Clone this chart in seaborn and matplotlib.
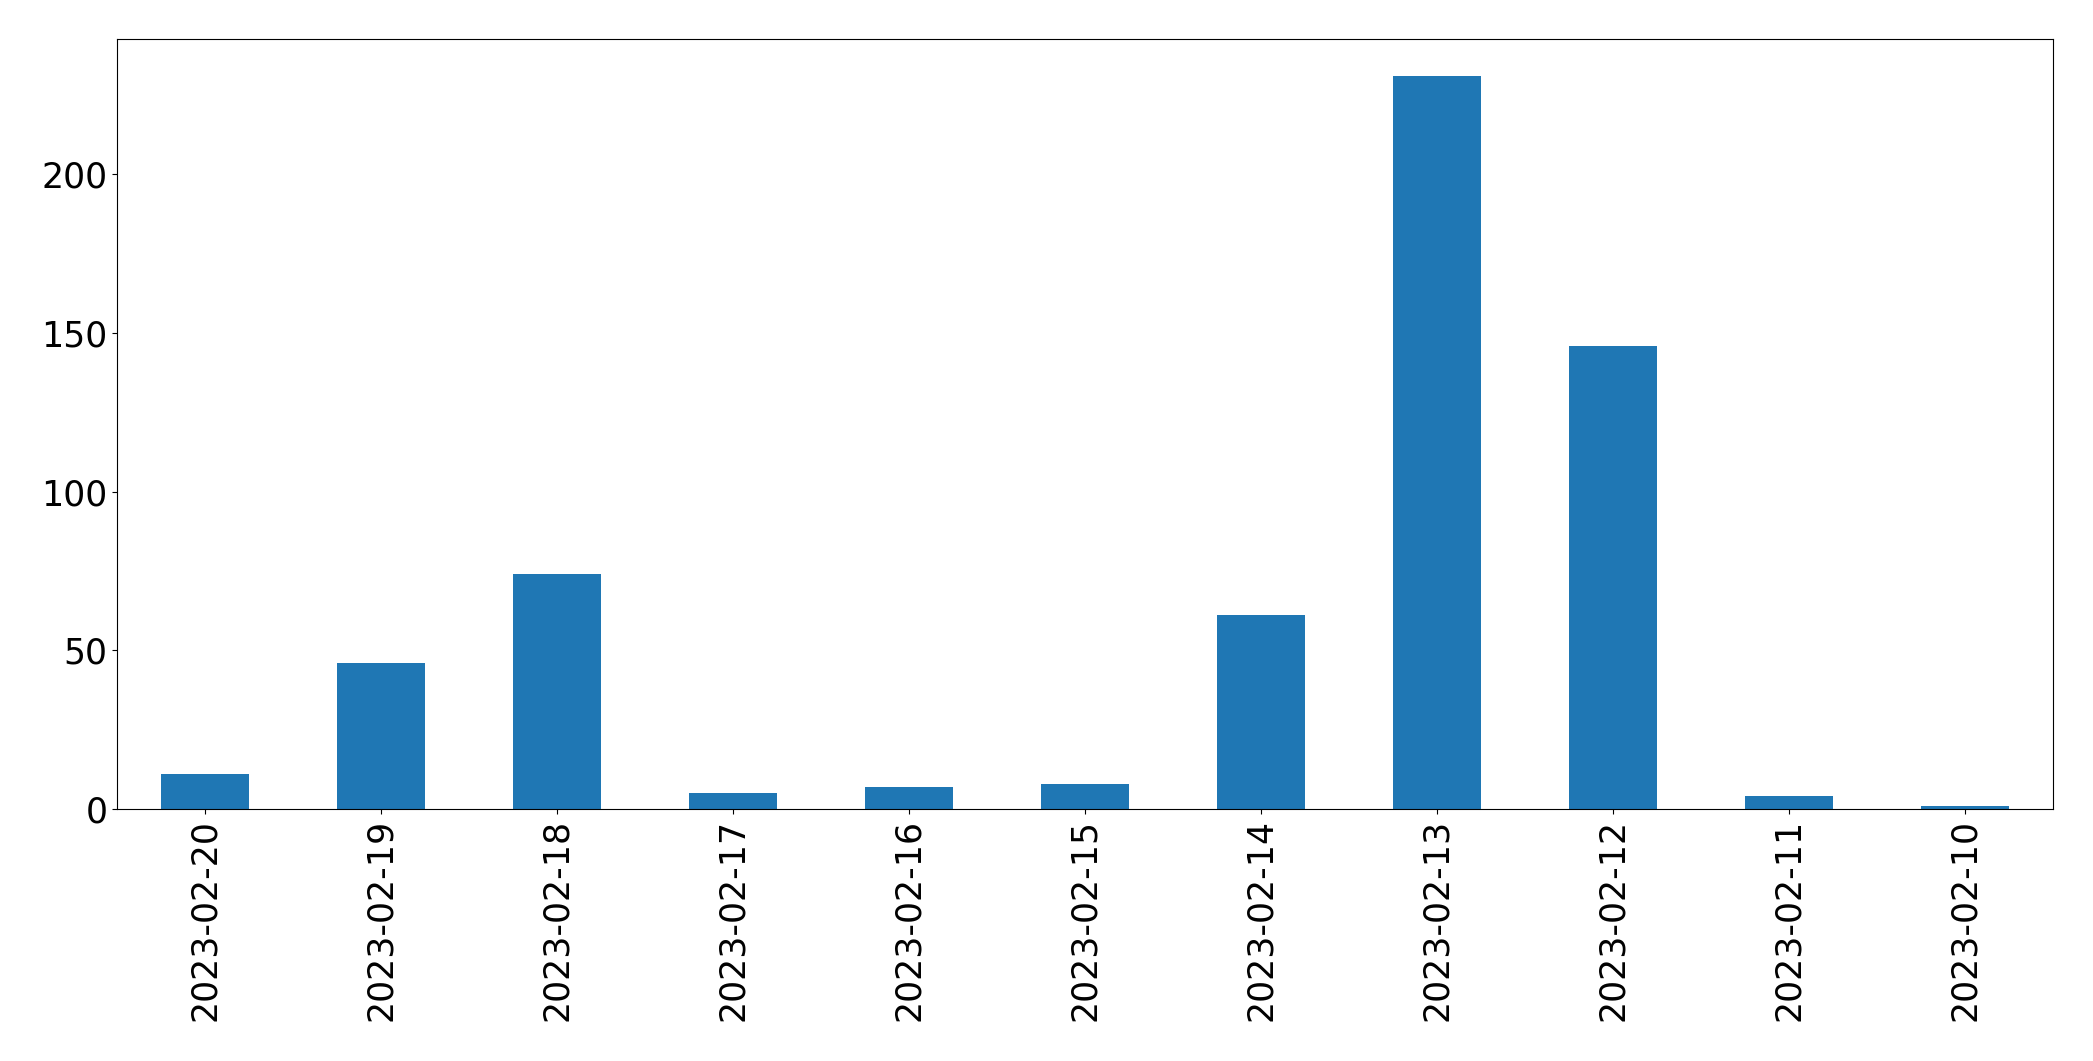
import matplotlib
matplotlib.use('Agg')
import matplotlib.pyplot as plt
import seaborn as sns
import pandas as pd

# 날짜별 건수
dates = ['2023-02-20', '2023-02-19', '2023-02-18', '2023-02-17', '2023-02-16', '2023-02-15',
         '2023-02-14', '2023-02-13', '2023-02-12', '2023-02-11', '2023-02-10']
counts = [11, 46, 74, 5, 7, 8, 61, 231, 146, 4, 1]

df = pd.DataFrame({'date': dates, 'count': counts})

fig, ax = plt.subplots(figsize=(20.93, 10.61), dpi=100)
fig.subplots_adjust(left=117/2093, right=2053/2093, top=1-39/1061, bottom=1-809/1061)

sns.barplot(data=df, x='date', y='count', order=dates, color='#1f77b4',
            saturation=1, width=0.5, linewidth=0, ax=ax)

ax.set_xlim(-0.5, len(dates) - 0.5)
ax.set_ylim(0, max(counts) * 1.05)
ax.set_xlabel('')
ax.set_ylabel('')
ax.tick_params(axis='x', labelsize=25, rotation=90)
ax.tick_params(axis='y', labelsize=25)

plt.savefig('out.png', dpi=100)
